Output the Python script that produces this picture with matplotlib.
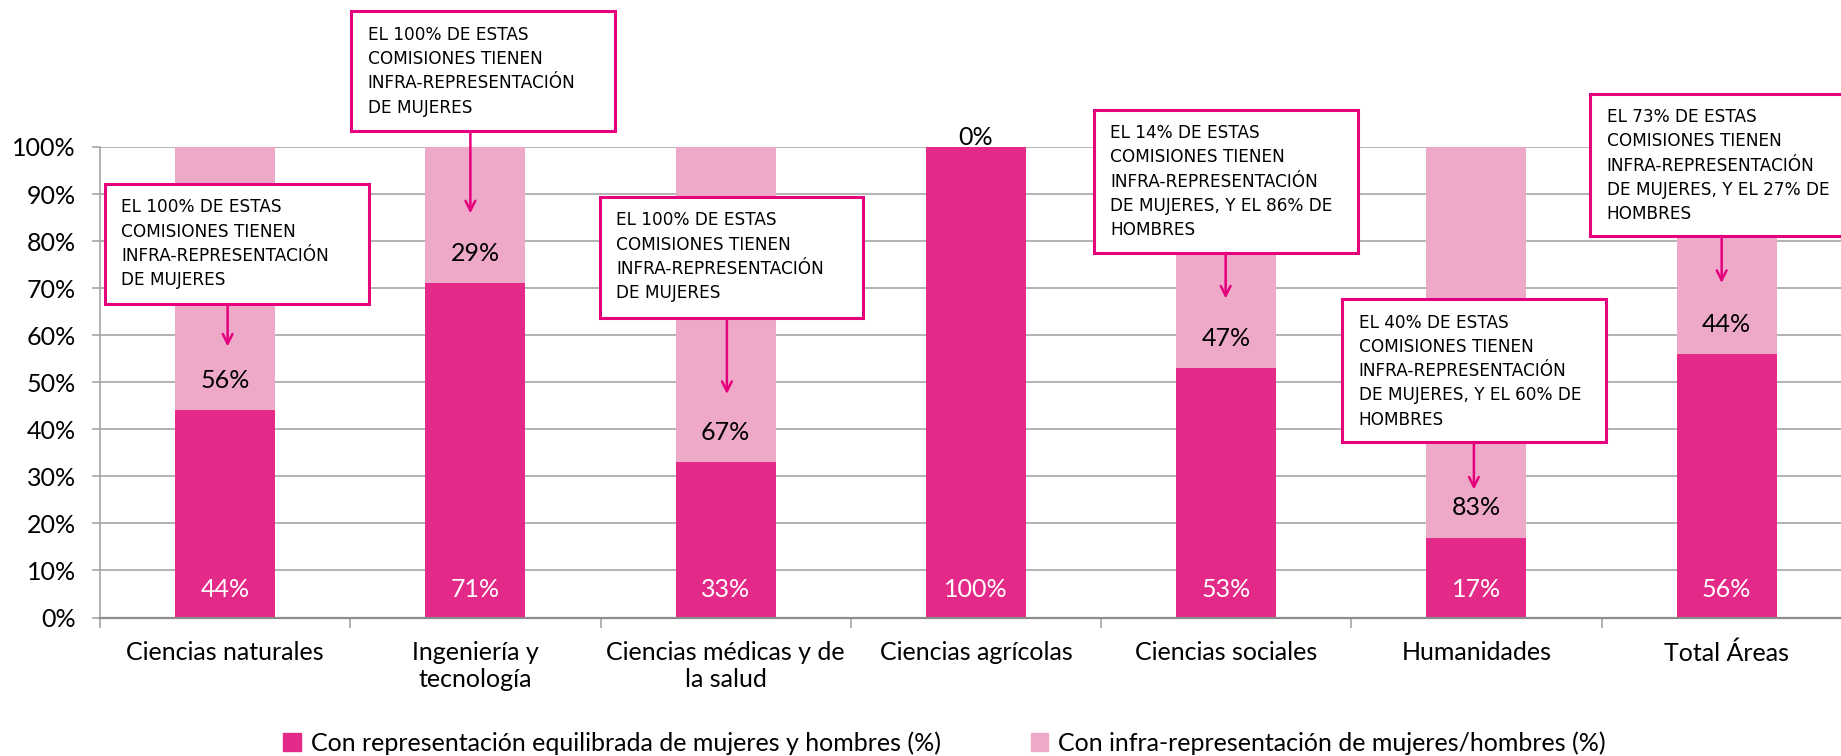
import matplotlib
matplotlib.use("Agg")
import matplotlib.pyplot as plt
from matplotlib.patches import Rectangle
from matplotlib.ticker import FixedLocator, PercentFormatter

# datos
categorias = ['Ciencias naturales', 'Ingeniería y\ntecnología', 'Ciencias médicas y de\nla salud',
              'Ciencias agrícolas', 'Ciencias sociales', 'Humanidades', 'Total Áreas']
equilibrada = [44, 71, 33, 100, 53, 17, 56]
infra = [56, 29, 67, 0, 47, 83, 44]

leyenda = ['Con representación equilibrada de mujeres y hombres (%)',
           'Con infra-representación de mujeres/hombres (%)']

notas = [
    "EL 100% DE ESTAS\nCOMISIONES TIENEN\nINFRA-REPRESENTACIÓN\nDE MUJERES",
    "EL 100% DE ESTAS\nCOMISIONES TIENEN\nINFRA-REPRESENTACIÓN\nDE MUJERES",
    "EL 100% DE ESTAS\nCOMISIONES TIENEN\nINFRA-REPRESENTACIÓN\nDE MUJERES",
    "EL 14% DE ESTAS\nCOMISIONES TIENEN\nINFRA-REPRESENTACIÓN\nDE MUJERES, Y EL 86% DE\nHOMBRES",
    "EL 40% DE ESTAS\nCOMISIONES TIENEN\nINFRA-REPRESENTACIÓN\nDE MUJERES, Y EL 60% DE\nHOMBRES",
    "EL 73% DE ESTAS\nCOMISIONES TIENEN\nINFRA-REPRESENTACIÓN\nDE MUJERES, Y EL 27% DE\nHOMBRES",
]
# caja: (x0, x1, y_arriba, y_abajo), flecha: (x, y_punta)  -- en coordenadas de datos
cajas = [(-0.482, 0.574, 92.1, 66.6), (0.504, 1.556, 128.8, 103.3), (1.497, 2.549, 89.3, 63.6),
         (3.471, 4.526, 107.9, 77.5), (4.464, 5.517, 67.6, 37.3), (5.455, 6.55, 111.3, 81.1)]
flechas = [(0.01, 57.6), (0.98, 85.9), (2.005, 47.5), (3.998, 67.8), (4.99, 27.2), (5.98, 71.1)]

c_osc = '#E42A88'
c_clar = '#EEA9C9'
c_mag = '#E5007D'
c_grid = '#A6A6A6'

plt.rcParams['font.family'] = ['Lato', 'DejaVu Sans']
fuente_caja = ['Liberation Sans Narrow', 'DejaVu Sans']
fs = 18

fig = plt.figure(figsize=(18.41, 7.56), dpi=100)
ax = fig.add_axes([100 / 1841, 1 - 617.5 / 756, 1 - 100 / 1841, (617.5 - 147) / 756])

x = list(range(len(categorias)))
ax.bar(x, equilibrada, width=0.4, color=c_osc, zorder=2)
ax.bar(x, infra, width=0.4, bottom=equilibrada, color=c_clar, zorder=2)

for i in x:
    ax.text(i, 6, f"{equilibrada[i]}%", ha='center', va='center', color='white', fontsize=fs, zorder=3)
    if infra[i] > 0:
        ax.text(i, equilibrada[i] + 6.3, f"{infra[i]}%", ha='center', va='center', color='black',
                fontsize=fs, zorder=3)
    else:
        ax.text(i, 99.5, f"{infra[i]}%", ha='center', va='bottom', color='black', fontsize=fs, zorder=3)

ax.set_xlim(-0.5, -0.5 + (1841 - 99) / 250.4)
ax.set_ylim(0, 100)
ax.set_yticks(range(0, 101, 10))
ax.yaxis.set_major_formatter(PercentFormatter(decimals=0))
ax.set_xticks(x)
ax.set_xticklabels(categorias, fontsize=fs, linespacing=1.2)
ax.xaxis.set_minor_locator(FixedLocator([i - 0.5 for i in range(len(categorias) + 1)]))
ax.tick_params(axis='x', which='major', length=0, pad=17)
ax.tick_params(axis='x', which='minor', length=7, color=c_grid, width=1.2)
ax.tick_params(axis='y', length=5.5, color=c_grid, width=1.2, labelsize=fs, pad=12)

ax.grid(axis='y', color=c_grid, linewidth=1.2, zorder=0)
ax.set_axisbelow(True)
for s in ['top', 'right']:
    ax.spines[s].set_visible(False)
ax.spines['left'].set_color(c_grid)
ax.spines['left'].set_linewidth(1.2)
ax.spines['bottom'].set_color('#8C8C8C')
ax.spines['bottom'].set_linewidth(1.6)

# cajas de notas
for (x0, x1, ya, yb), (fx, fy), txt in zip(cajas, flechas, notas):
    ax.add_patch(Rectangle((x0, yb), x1 - x0, ya - yb, facecolor='white', edgecolor=c_mag,
                           linewidth=2.2, clip_on=False, zorder=5))
    ax.text(x0 + 0.066, ya - 3.0, txt, ha='left', va='top', fontsize=12.2, family=fuente_caja,
            linespacing=1.45, zorder=6, clip_on=False)
    ax.annotate('', xy=(fx, fy), xytext=(fx, yb), annotation_clip=False, zorder=6,
                arrowprops=dict(arrowstyle='->,head_length=0.7,head_width=0.35', color=c_mag, lw=1.8,
                                shrinkA=0, shrinkB=0))

h1 = Rectangle((0, 0), 1, 1, color=c_osc)
h2 = Rectangle((0, 0), 1, 1, color=c_clar)
fig.legend([h1, h2], leyenda, loc='center', bbox_to_anchor=(0.513, 0.017), ncol=2, frameon=False,
           fontsize=fs, handlelength=0.7, handleheight=0.7, handletextpad=0.4, columnspacing=3.6)

fig.savefig('out.png', dpi=100)
